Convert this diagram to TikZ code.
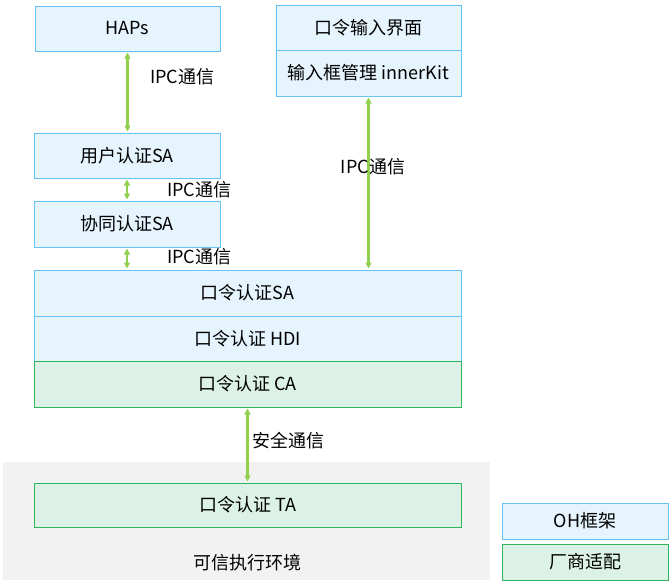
\documentclass[tikz,border=0pt]{standalone}
\usepackage{fontspec}
\setmainfont{Noto Sans CJK SC}
\usetikzlibrary{positioning, arrows.meta}

\definecolor{ohfill}{HTML}{E6F4FD}
\definecolor{ohline}{HTML}{66C2F3}
\definecolor{vendorfill}{HTML}{DDF2E6}
\definecolor{vendorline}{HTML}{2EB45F}
\definecolor{ipcgreen}{HTML}{92D050}
\definecolor{teegray}{HTML}{F2F2F2}

\tikzset{
  ohbox/.style={rectangle,draw=ohline,fill=ohfill,line width=1pt,inner sep=0pt},
  vendorbox/.style={rectangle,draw=vendorline,fill=vendorfill,line width=1pt,inner sep=0pt},
  ipc/.style={{Triangle[width=6pt,length=6pt]}-{Triangle[width=6pt,length=6pt]},draw=ipcgreen,line width=2.5pt,shorten <=1pt,shorten >=1pt},
  ipclabel/.style={inner sep=0pt,anchor=west}
}

\begin{document}
\begin{tikzpicture}[x=1pt,y=-1pt,font=\fontsize{18}{21}\selectfont]
  \useasboundingbox (0,0) rectangle (672,582);
  \fill[teegray] (3,462) rectangle (490,580);
  \node (tee) at (247,563) {可信执行环境};

  \begin{scope}[every node/.style={ohbox}]
    \node (haps) [minimum width=185pt,minimum height=45pt] at (127.5,28.5) {HAPs};
    \node (pwdui) [minimum width=185pt,minimum height=45pt] at (368.5,27.5) {口令输入界面};
    \node (pwdkit) [minimum width=185pt,minimum height=46pt] at (368.5,73) {输入框管理 innerKit};
    \node (usersa) [minimum width=186pt,minimum height=45pt] at (127,155.5) {用户认证SA};
    \node (coauthsa) [minimum width=186pt,minimum height=46pt] at (127,224) {协同认证SA};
    \node (pwdsa) [minimum width=427pt,minimum height=46pt] at (247.5,293) {口令认证SA};
    \node (pwdhdi) [minimum width=427pt,minimum height=45pt] at (247.5,338.5) {口令认证 HDI};
    \node (ohlegend) [minimum width=166pt,minimum height=36pt] at (585,521) {OH框架};
  \end{scope}

  \begin{scope}[every node/.style={vendorbox}]
    \node (pwdca) [minimum width=427pt,minimum height=46pt] at (247.5,384) {口令认证 CA};
    \node (pwdta) [minimum width=427pt,minimum height=44pt] at (247.5,505) {口令认证 TA};
    \node (vendorlegend) [minimum width=166pt,minimum height=36pt] at (585,562) {厂商适配};
  \end{scope}

  \begin{scope}[ipc]
    \path (haps.south) edge (haps.south |- usersa.north);
    \path (usersa) edge (coauthsa);
    \path (coauthsa.south) edge (coauthsa.south |- pwdsa.north);
    \path (pwdkit.south) edge (pwdkit.south |- pwdsa.north);
    \path (pwdca) edge (pwdta);
  \end{scope}

  \node (ipc1) [ipclabel] at (150,77) {IPC通信};
  \node (ipc2) [ipclabel] at (167,190) {IPC通信};
  \node (ipc3) [ipclabel] at (167,257) {IPC通信};
  \node (ipc4) at (373,167) {IPC通信};
  \node (secure) [ipclabel] at (252,441) {安全通信};
\end{tikzpicture}
\end{document}
